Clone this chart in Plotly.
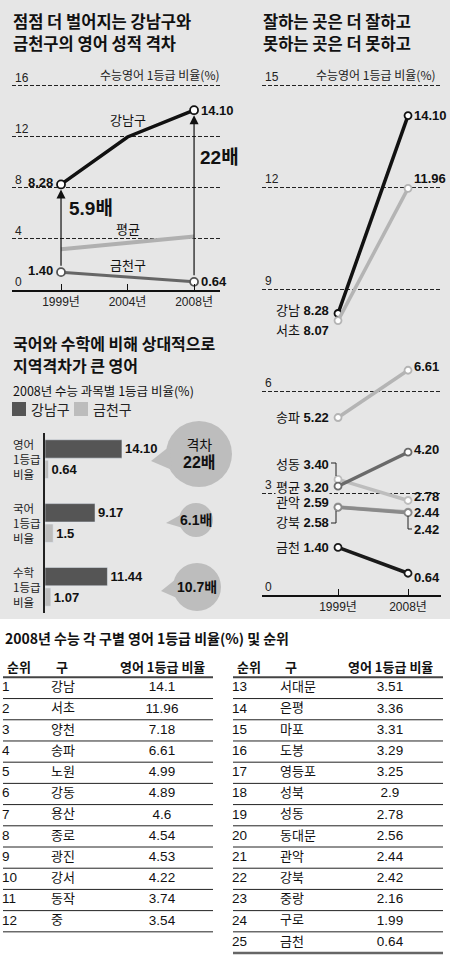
import plotly.graph_objects as go

W, H = 450, 963
def px(x): return x / W
def py(y): return 1 - y / H

NUM = "'Liberation Sans', 'Noto Sans CJK KR', sans-serif"
KR = "'Noto Sans CJK KR', sans-serif"
BG = "#e6e6e6"

# ---------------- data ----------------
# chart 1: trend
years3 = ["1999년", "2004년", "2008년"]
gangnam_trend = [8.28, 12.0, 14.10]
average_trend = [3.20, 3.7, 4.20]
geumcheon_trend = [1.40, 1.0, 0.64]
ratio_1999 = "5.9배"
ratio_2008 = "22배"

# chart 2: 1999 vs 2008 by district
years2 = ["1999년", "2008년"]
districts = ["강남", "서초", "송파", "성동", "평균", "관악", "강북", "금천"]
v1999 = [8.28, 8.07, 5.22, 3.40, 3.20, 2.59, 2.58, 1.40]
v2008 = [14.10, 11.96, 6.61, 2.78, 4.20, 2.44, 2.42, 0.64]

# chart 3: subjects
subjects = ["영어", "국어", "수학"]
gangnam_2008 = [14.10, 9.17, 11.44]
geumcheon_2008 = [0.64, 1.5, 1.07]
gangnam_txt = ["14.10", "9.17", "11.44"]
geumcheon_txt = ["0.64", "1.5", "1.07"]
gap_txt = ["격차<br><b style='font-size:16px'>22배</b>", "<b>6.1배</b>", "<b>10.7배</b>"]

# table
ranks = list(range(1, 26))
gu = ["강남", "서초", "양천", "송파", "노원", "강동", "용산", "종로", "광진", "강서", "동작", "중",
      "서대문", "은평", "마포", "도봉", "영등포", "성북", "성동", "동대문", "관악", "강북", "중랑", "구로", "금천"]
eng = [14.1, 11.96, 7.18, 6.61, 4.99, 4.89, 4.6, 4.54, 4.53, 4.22, 3.74, 3.54,
       3.51, 3.36, 3.31, 3.29, 3.25, 2.9, 2.78, 2.56, 2.44, 2.42, 2.16, 1.99, 0.64]

# ---------------- styles ----------------
c2_colors = ["#111111", "#b4b4b4", "#b4b4b4", "#bdbdbd", "#6a6a6a", "#a8a8a8", "#8a8a8a", "#1a1a1a"]
left_yshift = [3, -10, 0, 15, -1, 4, -15, 0]
right_yshift = [0, 10, 4, 4, 3, 0, -17, -4]
bar_colors = ["#555555", "#bcbcbc"]

fig = go.Figure()

# ---------- chart 1 ----------
fig.add_trace(go.Scatter(x=years3, y=average_trend, mode="lines",
                         line=dict(color="#b0b0b0", width=4), xaxis="x", yaxis="y", showlegend=False))
fig.add_trace(go.Scatter(x=years3, y=geumcheon_trend, mode="lines+markers",
                         line=dict(color="#666666", width=3),
                         marker=dict(size=8, color="white", opacity=[1, 0, 1], line=dict(color="#555", width=1.8)),
                         xaxis="x", yaxis="y", showlegend=False))
fig.add_trace(go.Scatter(x=years3, y=gangnam_trend, mode="lines+markers",
                         line=dict(color="#111111", width=3.5),
                         marker=dict(size=8, color="white", opacity=[1, 0, 1], line=dict(color="#111", width=1.8)),
                         xaxis="x", yaxis="y", showlegend=False))

# ---------- chart 2 ----------
for i, d in enumerate(districts):
    fig.add_trace(go.Scatter(x=years2, y=[v1999[i], v2008[i]], mode="lines+markers",
                             line=dict(color=c2_colors[i], width=3.5),
                             marker=dict(size=7, color="white", line=dict(color=c2_colors[i], width=1.8)),
                             xaxis="x2", yaxis="y2", showlegend=False))

# ---------- chart 3 ----------
bar_names = ["강남구", "금천구"]
for name, vals, txt, col in zip(bar_names, (gangnam_2008, geumcheon_2008),
                                (gangnam_txt, geumcheon_txt), bar_colors):
    fig.add_trace(go.Bar(y=subjects, x=vals, orientation="h", name=name,
                         marker=dict(color=col), text=txt, texttemplate="<b>%{text}</b>",
                         textposition="outside", cliponaxis=False,
                         textfont=dict(family=NUM, size=13, color="#111"),
                         xaxis="x3", yaxis="y3", showlegend=False))

# ---------- table ----------
rows = [r - 1 if r <= 12 else r - 13 for r in ranks]
col_rank = [2 if r <= 12 else 232 for r in ranks]
col_gu = [51 if r <= 12 else 280 for r in ranks]
col_val = [162 if r <= 12 else 390 for r in ranks]
fig.add_trace(go.Scatter(x=col_rank, y=rows, text=[str(r) for r in ranks], mode="text",
                         textposition="middle right", textfont=dict(family=NUM, size=13.5, color="#111"),
                         xaxis="x4", yaxis="y4", showlegend=False, hoverinfo="skip"))
fig.add_trace(go.Scatter(x=col_gu, y=rows, text=gu, mode="text",
                         textposition="middle right", textfont=dict(family=KR, size=13, color="#111"),
                         xaxis="x4", yaxis="y4", showlegend=False, hoverinfo="skip"))
fig.add_trace(go.Scatter(x=col_val, y=rows, text=[str(v) for v in eng], mode="text",
                         textposition="middle center", textfont=dict(family=NUM, size=13.5, color="#111"),
                         xaxis="x4", yaxis="y4", showlegend=False, hoverinfo="skip"))

shapes = []
ann = []

# grey background
shapes.append(dict(type="rect", xref="paper", yref="paper", x0=0, x1=1, y0=py(619), y1=1,
                   fillcolor=BG, line=dict(width=0), layer="below"))

# titles
def title(x, y, text, size=16):
    ann.append(dict(xref="paper", yref="paper", x=px(x), y=py(y), xanchor="left", yanchor="middle",
                    text=text, showarrow=False, align="left",
                    font=dict(family=KR, size=size, color="#111")))

title(11, 21, "<b>점점 더 벌어지는 강남구와</b>", 16.5)
title(11, 43, "<b>금천구의 영어 성적 격차</b>", 16.5)
title(261, 21, "<b>잘하는 곳은 더 잘하고</b>", 16.5)
title(261, 43, "<b>못하는 곳은 더 못하고</b>", 16.5)
title(11, 343, "<b>국어와 수학에 비해 상대적으로</b>")
title(11, 365, "<b>지역격차가 큰 영어</b>")
title(11, 390, "2008년 수능 과목별 1등급 비율(%)", size=12.5)
title(3, 638, "<b>2008년 수능 각 구별 영어 1등급 비율(%) 및 순위</b>", size=14)

# custom legend for bar chart
for name, col, x0 in zip(bar_names, bar_colors, (12, 74)):
    shapes.append(dict(type="rect", xref="paper", yref="paper", x0=px(x0), x1=px(x0 + 14),
                       y0=py(416), y1=py(402), fillcolor=col, line=dict(width=0)))
    ann.append(dict(xref="paper", yref="paper", x=px(x0 + 17), y=py(409), xanchor="left",
                    yanchor="middle", text=name, showarrow=False,
                    font=dict(family=KR, size=14, color="#222")))

# axis unit titles
for xr in (222, 438):
    ann.append(dict(xref="paper", yref="paper", x=px(xr), y=py(74), xanchor="right", yanchor="middle",
                    text="수능영어 1등급 비율(%)", showarrow=False,
                    font=dict(family=KR, size=12, color="#222")))

def lab(xref, yref, x, y, text, xanchor, xshift=0, yshift=0, size=13, family=NUM, bg=None):
    a = dict(xref=xref, yref=yref, x=x, y=y, text=text, showarrow=False, xanchor=xanchor,
             yanchor="middle", xshift=xshift, yshift=yshift,
             font=dict(family=family, size=size, color="#111"))
    if bg:
        a.update(bgcolor=bg, borderpad=0)
    ann.append(a)

# chart 1 labels
lab("x", "y", years3[1], 13.4, "강남구", "center", size=13, family=KR)
lab("x", "y", years3[1], 4.8, "평균", "center", size=13, family=KR)
lab("x", "y", years3[1], 2.0, "금천구", "center", size=13, family=KR)
lab("x", "y", years3[0], gangnam_trend[0], f"<b>{gangnam_trend[0]:.2f}</b>", "right", xshift=-6, yshift=2)
lab("x", "y", years3[2], gangnam_trend[2], f"<b>{gangnam_trend[2]:.2f}</b>", "left", xshift=5)
lab("x", "y", years3[0], geumcheon_trend[0], f"<b>{geumcheon_trend[0]:.2f}</b>", "right", xshift=-6, yshift=2)
lab("x", "y", years3[2], geumcheon_trend[2], f"<b>{geumcheon_trend[2]:.2f}</b>", "left", xshift=5)
lab("x", "y", years3[0], 6.4, f"<b>{ratio_1999}</b>", "left", xshift=6, size=19)
lab("x", "y", years3[2], 10.4, f"<b>{ratio_2008}</b>", "left", xshift=4, size=19)

# arrows
for idx in (0, 2):
    ann.append(dict(xref="x", yref="y", axref="x", ayref="y",
                    x=idx, y=gangnam_trend[idx], ax=idx, ay=geumcheon_trend[idx],
                    text="", showarrow=True, arrowhead=2, arrowsize=1.5, arrowwidth=1.2,
                    arrowcolor="#111", standoff=5, startstandoff=5))

# chart 2 labels
for i, d in enumerate(districts):
    lab("x2", "y2", years2[0], v1999[i],
        f"<span style='font-family:{KR};font-size:12px'>{d}</span> <b>{v1999[i]:.2f}</b>",
        "right", xshift=-8, yshift=left_yshift[i], size=13, bg=BG)
    lab("x2", "y2", years2[1], v2008[i], f"<b>{v2008[i]:.2f}</b>", "left", xshift=4,
        yshift=right_yshift[i], size=13)

# brackets
for pts in ([(331, 463), (336, 463), (336, 476)],
            [(331, 523), (336, 523), (336, 511)],
            [(408, 516), (408, 529), (412, 529)]):
    path = "M " + " L ".join(f"{px(a)},{py(b)}" for a, b in pts)
    shapes.append(dict(type="path", xref="paper", yref="paper", path=path,
                       line=dict(color="#222", width=1)))

# chart 3 category labels
for s in subjects:
    ann.append(dict(xref="paper", yref="y3", x=px(11), y=s, xanchor="left", yanchor="middle",
                    text=f"{s}<br>1등급<br>비율", align="left", showarrow=False,
                    font=dict(family=KR, size=11.5, color="#222")))

# bubbles
bubbles = [((199, 454), 33, [(151, 461), (170, 446), (172, 470)]),
           ((196, 520), 17, [(166, 523), (182, 514), (183, 528)]),
           ((197, 587), 24, [(161, 591), (176, 579), (177, 598)])]
for (cx, cy), r, tail in bubbles:
    shapes.append(dict(type="circle", xref="paper", yref="paper",
                       x0=px(cx - r), x1=px(cx + r), y0=py(cy + r), y1=py(cy - r),
                       fillcolor="#bdbdbd", line=dict(width=0)))
    path = "M " + " L ".join(f"{px(a)},{py(b)}" for a, b in tail) + " Z"
    shapes.append(dict(type="path", xref="paper", yref="paper", path=path,
                       fillcolor="#bdbdbd", line=dict(width=0)))
for ((cx, cy), r, _), t in zip(bubbles, gap_txt):
    ann.append(dict(xref="paper", yref="paper", x=px(cx), y=py(cy), text=t, showarrow=False,
                    xanchor="center", yanchor="middle",
                    font=dict(family=NUM, size=14, color="#111")))

# table headers and lines
for x0, xr, xg, xv, n in ((3, 5, 54, 162, 12), (233, 235, 283, 390, 13)):
    for x, t, anc in ((xr, "순위", "left"), (xg, "구", "left"), (xv, "영어 1등급 비율", "center")):
        ann.append(dict(xref="x4", yref="y4", x=x, y=-1, text=f"<b>{t}</b>", showarrow=False,
                        xanchor=anc, yanchor="middle",
                        font=dict(family=KR, size=13, color="#111")))
    shapes.append(dict(type="line", xref="x4", yref="y4", x0=x0, x1=x0 + 210, y0=-0.5, y1=-0.5,
                       line=dict(color="#444", width=2)))
    for k in range(n):
        last = (k == n - 1 and n == 13)
        shapes.append(dict(type="line", xref="x4", yref="y4", x0=x0, x1=x0 + 210, y0=k + 0.5, y1=k + 0.5,
                           line=dict(color="#666" if last else "#222", width=2.5 if last else 1)))

ax_common = dict(showgrid=False, zeroline=False)
grid_dash = "4px,2px"
fig.update_layout(
    width=W, height=H, margin=dict(l=0, r=0, t=0, b=0),
    paper_bgcolor="white", plot_bgcolor="rgba(0,0,0,0)",
    barmode="group", bargap=0.36, bargroupgap=0.1, showlegend=False,
    shapes=shapes, annotations=ann,
    xaxis=dict(domain=[px(12), px(220)], type="category", categoryarray=years3, range=[-0.737, 2.39],
               ticks="inside", ticklen=6, tickcolor="#111", showline=True, linecolor="#111", linewidth=1.5,
               tickfont=dict(family=NUM, size=12, color="#222"), anchor="y", **ax_common),
    yaxis=dict(domain=[py(290), py(69.4)], range=[0, 17.3], tickvals=[0, 4, 8, 12, 16],
               ticklabelposition="inside top", showgrid=True, gridcolor="#222", griddash=grid_dash,
               gridwidth=1, zeroline=False, ticks="", tickfont=dict(family=NUM, size=12, color="#222"),
               anchor="x"),
    xaxis2=dict(domain=[px(262), px(441)], type="category", categoryarray=years2, range=[-1.086, 1.471],
                ticks="inside", ticklen=6, tickcolor="#111", showline=True, linecolor="#111", linewidth=1.5,
                tickfont=dict(family=NUM, size=12, color="#222"), anchor="y2", **ax_common),
    yaxis2=dict(domain=[py(595), py(68)], range=[0, 15.5], tickvals=[0, 3, 6, 9, 12, 15],
                ticklabelposition="inside top", showgrid=True, gridcolor="#222", griddash=grid_dash,
                gridwidth=1, zeroline=False, ticks="", tickfont=dict(family=NUM, size=12, color="#222"),
                anchor="x2"),
    xaxis3=dict(domain=[px(45), px(230)], range=[0, 33.9], visible=False, anchor="y3"),
    yaxis3=dict(domain=[py(613), py(433)], type="category", categoryarray=subjects, range=[2.41, -0.41],
                showticklabels=False, showline=True, linecolor="#222", linewidth=1.5, ticks="",
                anchor="x3", **ax_common),
    xaxis4=dict(domain=[0, 1], range=[0, 450], visible=False, anchor="y4"),
    yaxis4=dict(domain=[0, py(650)], range=[12.97, -1.79], visible=False, anchor="x4"),
)

fig.write_html("out.html", config={"displayModeBar": False},
               post_script="document.body.style.margin='0px';")
